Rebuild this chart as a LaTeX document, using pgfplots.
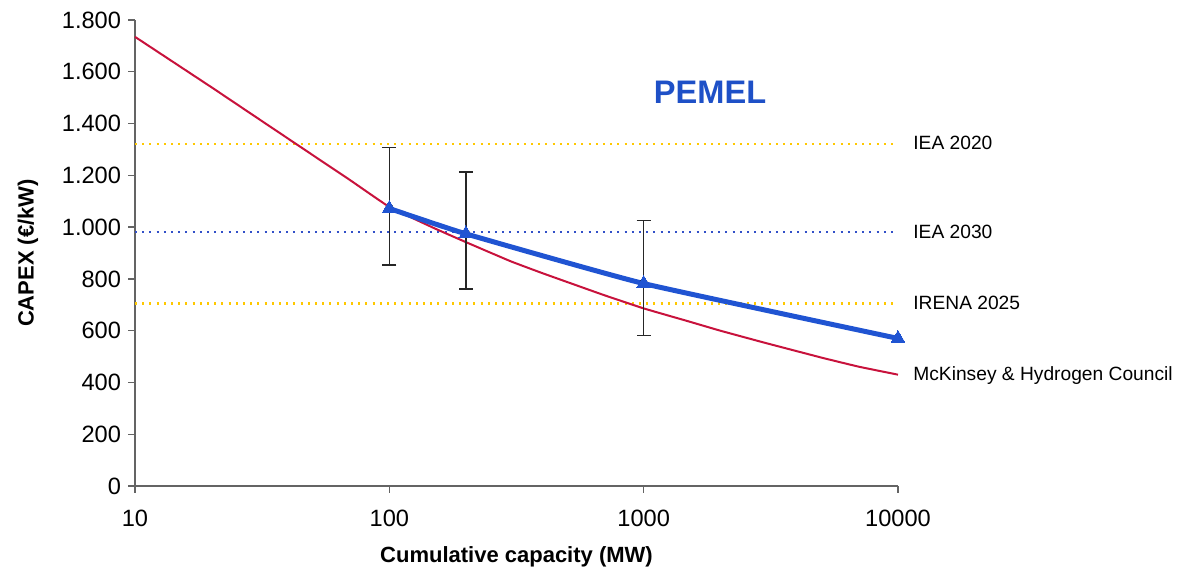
\documentclass[border=0pt]{standalone}
\usepackage{pgfplots}
\pgfplotsset{compat=1.18}
\usepackage{fontspec}
\setmainfont{Liberation Sans}
\definecolor{cred}{RGB}{200,18,60}
\definecolor{cblue}{RGB}{32,84,210}
\definecolor{cyel}{RGB}{255,200,0}
\definecolor{cdblue}{RGB}{50,80,200}
\definecolor{cax}{RGB}{100,100,100}
\begin{document}
\begin{tikzpicture}
\begin{axis}[
  scale only axis,
  width=381.5pt, height=233pt,
  xmode=log, log basis x=10,
  xmin=10, xmax=10000, ymin=0, ymax=1800,
  axis x line*=bottom, axis y line*=left,
  axis line style={cax, line width=0.7pt},
  xtick={10,100,1000,10000},
  xticklabels={10,100,1000,10000},
  xminorticks=false,
  ytick={0,200,...,1800},
  tick align=outside,
  major tick length=3.5pt,
  tick style={cax, line width=0.7pt},
  /pgf/number format/assume math mode=true,
  /pgf/number format/1000 sep={.},
  tick label style={font=\fontsize{11.8pt}{14pt}\selectfont, text=black},
  xticklabel style={yshift=-5pt},
  xlabel={Cumulative capacity (MW)},
  ylabel={CAPEX (€/kW)},
  label style={font=\fontsize{11pt}{13pt}\selectfont\bfseries, inner sep=0pt},
  xlabel style={at={(axis description cs:0.5,-0.1524)}, anchor=center},
  ylabel style={at={(axis description cs:-0.1402,0.5)}, anchor=center},
  clip=false,
]
% reference lines
\addplot[cyel, line width=1.1pt, dash pattern=on 1pt off 2.6pt] coordinates {(10,1320) (10000,1320)};
\addplot[cdblue, line width=1.1pt, dash pattern=on 1pt off 2.6pt] coordinates {(10,980) (10000,980)};
\addplot[cyel, line width=1.1pt, dash pattern=on 1pt off 2.6pt] coordinates {(10,705) (10000,705)};
% McKinsey & Hydrogen Council
\addplot[cred, line width=1pt, smooth, tension=0.2] coordinates {
 (10,1735) (20,1540) (30,1424) (50,1278) (70,1182) (100,1078) (150,996) (200,942)
 (300,868) (400,822) (500,788) (700,737) (1000,686) (1500,636) (2000,600) (3000,553)
 (5000,496) (7000,461) (10000,430)};
% error bars
\addplot[only marks, mark=none, draw=none,
  error bars/.cd, y dir=both, y explicit,
  error bar style={black!85, line width=0.75pt},
  error mark options={black!85, line width=0.75pt, rotate=90, mark size=3.5pt}]
  coordinates {
  (100,1072) += (0,235) -= (0,219)
  (200,974) += (0,238) -= (0,213)
  (1000,782) += (0,243) -= (0,201)};
% PEMEL
\addplot[cblue, line width=2.5pt, smooth, tension=0.25,
  mark=triangle*, mark size=4pt, mark options={cblue, line width=0pt, solid}]
  coordinates {(100,1072) (200,974) (1000,782) (10000,570)};
\begin{scope}[every node/.style={anchor=west, inner sep=0pt, font=\fontsize{9.6pt}{11pt}\selectfont, xshift=7.5pt}]
\node at (axis cs:10000,1325) {IEA 2020};
\node at (axis cs:10000,983) {IEA 2030};
\node at (axis cs:10000,708) {IRENA 2025};
\node at (axis cs:10000,425) {McKinsey \& Hydrogen Council};
\end{scope}
\node[inner sep=0pt, font=\fontsize{16.3pt}{19pt}\selectfont\bfseries, text=cblue!95!black] at (axis cs:1824,1521) {PEMEL};
\end{axis}
\useasboundingbox ([shift={(-67.5pt,-43.5pt)}]current axis.south west) rectangle ([shift={(522pt,243pt)}]current axis.south west);
\end{tikzpicture}
\end{document}
